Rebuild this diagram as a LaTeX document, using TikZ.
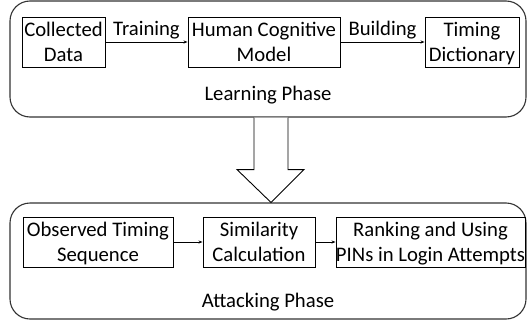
\documentclass[tikz,border=0pt]{standalone}
\usepackage{fontspec}
\setmainfont{Carlito}
\usetikzlibrary{arrows.meta,calc}
\begin{document}
\begin{tikzpicture}[x=1pt,y=-1pt,
  font=\fontsize{20.7pt}{25pt}\selectfont,
  phase/.style={draw=black!80,line width=1.1pt,rounded corners=20pt,inner sep=0pt},
  stepbox/.style={draw=black,line width=0.9pt,inner sep=0pt,align=center,minimum height=50pt,
    text height=42pt,text depth=4pt},
  conn/.style={draw=black,line width=0.8pt,-{Stealth[length=4pt,width=3pt]}},
  lbl/.style={above,inner sep=2.5pt},
  phasename/.style={anchor=base,inner sep=0pt},
  bigarrow/.style={draw=black,line width=0.9pt,fill=white}]
  \useasboundingbox (0,0) rectangle (527,324);

  % phase frames
  \node[phase,minimum width=516pt,minimum height=116pt] (learn) at (268,59) {};
  \node[phase,minimum width=516pt,minimum height=116pt] (attack) at (268,261) {};

  % learning phase steps
  \node[stepbox,minimum width=83pt]  (col) at (63.5,42) {Collected\\Data};
  \node[stepbox,minimum width=152pt] (hum) at (264,42) {Human Cognitive\\Model};
  \node[stepbox,minimum width=94pt]  (dic) at (472,42) {Timing\\Dictionary};
  \draw[conn] (col) -- node[lbl] {Training} (hum);
  \draw[conn] (hum) -- node[lbl] {Building} (dic);
  \node[phasename] (lname) at (268,100) {Learning Phase};

  % attacking phase steps
  \node[stepbox,minimum width=150pt] (obs) at (98,242) {Observed Timing\\Sequence};
  \node[stepbox,minimum width=112pt] (sim) at (259,242) {Similarity\\Calculation};
  \node[stepbox,minimum width=180pt] (rank) at (430.5,242) {Ranking and Using\\PINs in Login Attempts};
  \draw[conn] (obs) -- (sim);
  \draw[conn] (sim) -- (rank);
  \node[phasename] (aname) at (268,307) {Attacking Phase};

  % hollow block arrow from learning to attacking phase
  \coordinate (top) at ([xshift=3pt]learn.south);
  \coordinate (tip) at ([xshift=3pt]attack.north);
  \draw[bigarrow] ($(top)+(-17,0)$) -- ($(top)+(-17,52)$) -- ($(top)+(-34,52)$)
    -- (tip) -- ($(top)+(33,52)$) -- ($(top)+(17,52)$) -- ($(top)+(17,0)$);
\end{tikzpicture}
\end{document}
